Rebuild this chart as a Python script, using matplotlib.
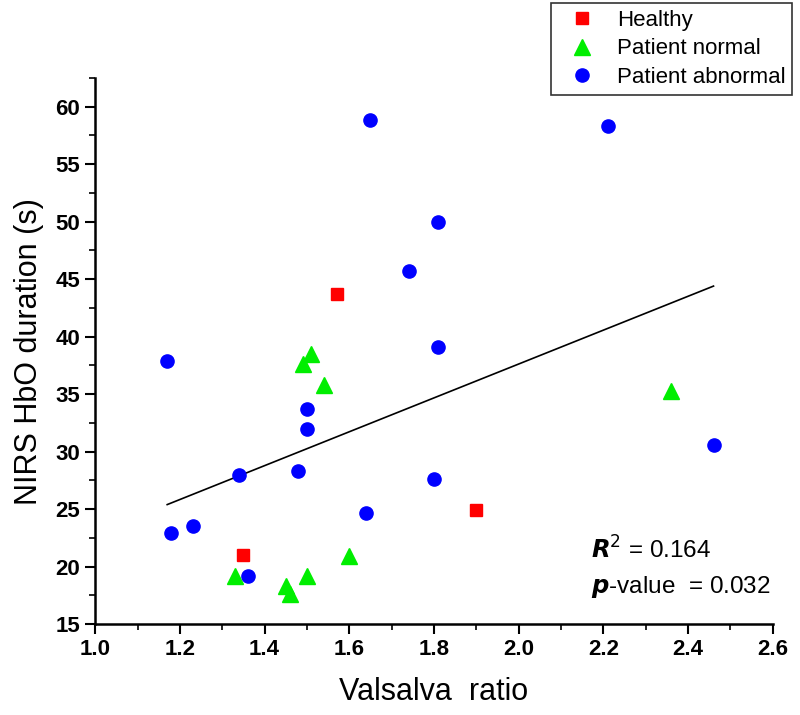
import matplotlib
matplotlib.use("Agg")
import matplotlib.pyplot as plt
from matplotlib.ticker import MultipleLocator

plt.rcParams['font.family'] = ['Liberation Sans', 'DejaVu Sans']

healthy_x = [1.35, 1.57, 1.90]
healthy_y = [21.0, 43.7, 24.9]

normal_x = [1.33, 1.45, 1.46, 1.50, 1.60, 1.49, 1.51, 1.54, 2.36]
normal_y = [19.2, 18.3, 17.6, 19.2, 20.9, 37.6, 38.5, 35.8, 35.3]

abnormal_x = [1.17, 1.18, 1.23, 1.34, 1.36, 1.48, 1.50, 1.50, 1.64, 1.65,
              1.74, 1.80, 1.81, 1.81, 2.21, 2.46]
abnormal_y = [37.9, 22.9, 23.5, 28.0, 19.2, 28.3, 33.7, 32.0, 24.7, 58.8,
              45.7, 27.6, 50.0, 39.1, 58.3, 30.6]

fit_x = [1.17, 2.46]
fit_y = [25.4, 44.4]

x_ticks = [1.0, 1.2, 1.4, 1.6, 1.8, 2.0, 2.2, 2.4, 2.6]
y_ticks = [15, 20, 25, 30, 35, 40, 45, 50, 55, 60]

fig = plt.figure(figsize=(8.0, 7.15), dpi=100)
ax = fig.add_axes([0.119, 0.127, 0.847, 0.764])

ax.plot(fit_x, fit_y, color='black', lw=1.2, zorder=2)
l1, = ax.plot(healthy_x, healthy_y, 's', color='#ff0000', ms=8.5, ls='none', zorder=3, label='Healthy')
l2, = ax.plot(normal_x, normal_y, '^', color='#00ee00', ms=11, ls='none', zorder=3, label='Patient normal')
l3, = ax.plot(abnormal_x, abnormal_y, 'o', color='#0000ff', ms=9.5, ls='none', zorder=3, label='Patient abnormal')

ax.set_xlim(1.0, 2.6)
ax.set_ylim(15, 62.5)
ax.set_xticks(x_ticks)
ax.set_yticks(y_ticks)
ax.set_xticklabels([f"{v:.1f}" for v in x_ticks])
ax.set_yticklabels([str(v) for v in y_ticks])
ax.xaxis.set_minor_locator(MultipleLocator(0.1))
ax.yaxis.set_minor_locator(MultipleLocator(2.5))
for lab in ax.get_xticklabels() + ax.get_yticklabels():
    lab.set_fontweight('bold')
    lab.set_fontsize(16)
ax.tick_params(which='major', direction='out', length=7, width=1.5, pad=4)
ax.tick_params(which='minor', direction='out', length=4, width=1.2)
ax.spines['top'].set_visible(False)
ax.spines['right'].set_visible(False)
ax.spines['left'].set_linewidth(1.8)
ax.spines['bottom'].set_linewidth(1.8)

ax.set_xlabel('Valsalva  ratio', fontsize=22, labelpad=12)
ax.set_ylabel('NIRS HbO duration (s)', fontsize=22, labelpad=8)

ax.text(0.731, 0.135, r'$\mathbfit{R}^{2}$' + ' = 0.164', transform=ax.transAxes,
        fontsize=17.5, ha='left', va='center')
ax.text(0.731, 0.068, r'$\mathbfit{p}$' + '-value  = 0.032', transform=ax.transAxes,
        fontsize=17.5, ha='left', va='center')

leg = fig.legend(handles=[l1, l2, l3], loc='upper right', bbox_to_anchor=(0.99, 0.996),
                 borderaxespad=0.0,
                 fontsize=16, frameon=True, fancybox=False, edgecolor='black',
                 handletextpad=0.45, labelspacing=0.35, borderpad=0.3, handlelength=2.2)
leg.get_frame().set_linewidth(1.2)

fig.savefig('out.png', dpi=100)
